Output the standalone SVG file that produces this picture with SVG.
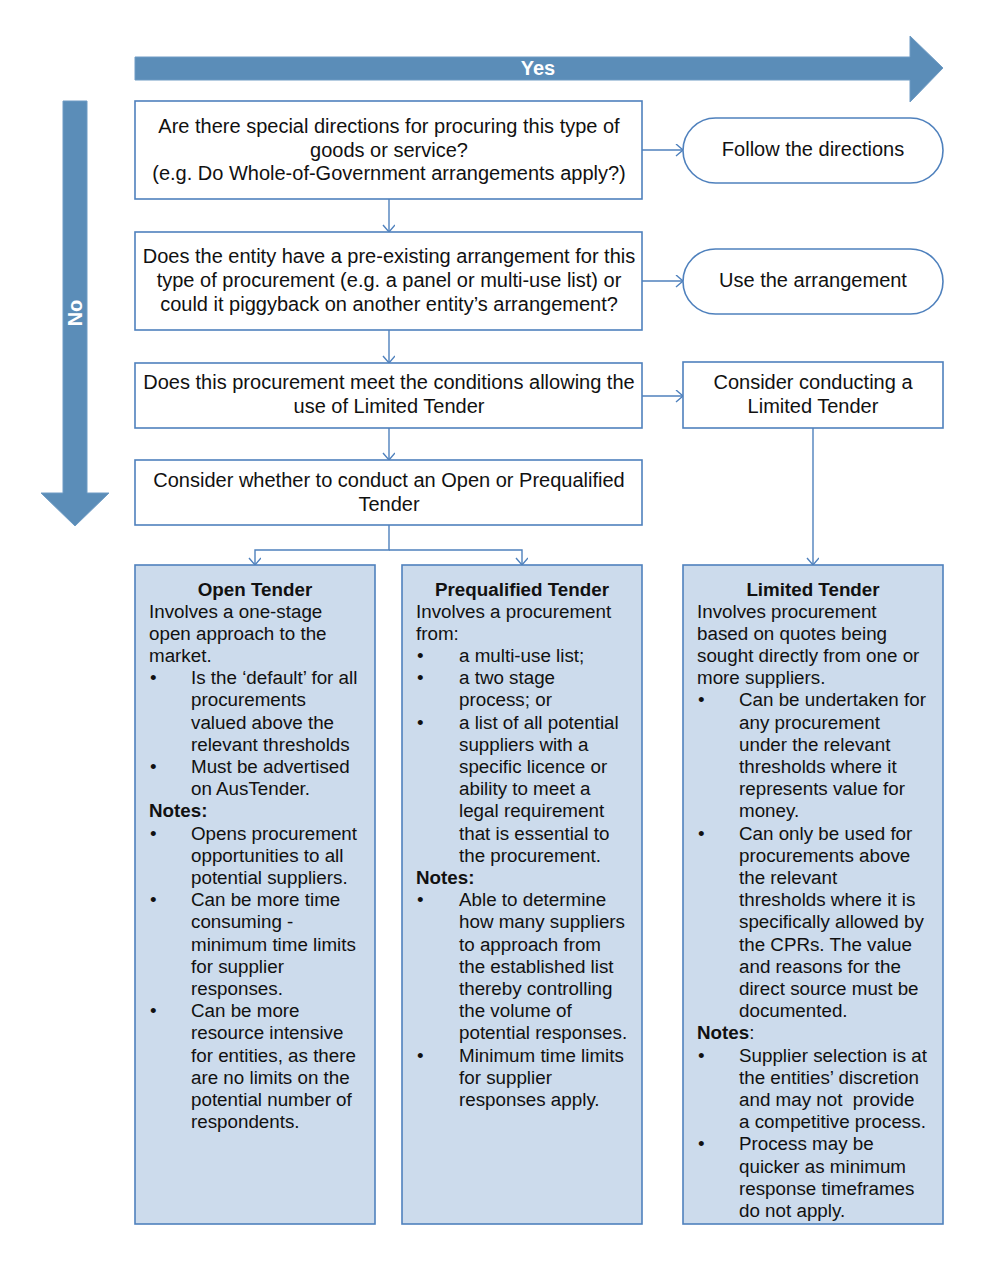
<svg xmlns="http://www.w3.org/2000/svg" width="986" height="1262" viewBox="0 0 986 1262">
<style>
.big{fill:#5B8DB8;stroke:#6E9BC4;stroke-width:1}
.lbl{font-family:"Liberation Sans",Arial,sans-serif;font-weight:bold;font-size:20px;fill:#fff;text-anchor:middle}
.box{fill:#fff;stroke:#4F81BD;stroke-width:1.6}
.tbox{fill:#CCDBEC;stroke:#4F81BD;stroke-width:1.6}
.t{font-family:"Liberation Sans",Arial,sans-serif;font-size:20px;fill:#111;text-anchor:middle}
.b{font-family:"Liberation Sans",Arial,sans-serif;font-size:18.8px;fill:#111}
.h{font-weight:bold}
.c{text-anchor:middle}
.con{fill:none;stroke:#4F81BD;stroke-width:1.4}
</style>
<defs>
<marker id="ah" markerUnits="userSpaceOnUse" markerWidth="12" markerHeight="14" refX="8" refY="6" orient="auto" viewBox="0 0 12 14">
<path d="M1,0 L8,6 L1,12" fill="none" stroke="#4F81BD" stroke-width="1.4"/>
</marker>
</defs>

<g id="yes-arrow">
<polygon class="big" points="135,57 910,57 910,36 943,68 910,102 910,80 135,80"/>
<text class="lbl" x="538" y="75">Yes</text>
</g>
<g id="no-arrow">
<polygon class="big" points="63,101 87,101 87,493 109,493 75,526 41,493 63,493"/>
<text class="lbl" transform="translate(75,313) rotate(-90)" x="0" y="7">No</text>
</g>

<g id="connectors">
<path class="con" d="M642,150 H683" marker-end="url(#ah)"/>
<path class="con" d="M642,281 H683" marker-end="url(#ah)"/>
<path class="con" d="M642,396 H683" marker-end="url(#ah)"/>
<path class="con" d="M389,199 V232" marker-end="url(#ah)"/>
<path class="con" d="M389,330 V363" marker-end="url(#ah)"/>
<path class="con" d="M389,428 V460" marker-end="url(#ah)"/>
<path class="con" d="M389,525 V550 H255 V565" marker-end="url(#ah)"/>
<path class="con" d="M389,550 H522 V565" marker-end="url(#ah)"/>
<path class="con" d="M813,428 V565" marker-end="url(#ah)"/>
</g>

<g id="q1">
<rect class="box" x="135" y="101" width="507" height="98"/>
<text class="t" x="389" y="133">Are there special directions for procuring this type of</text>
<text class="t" x="389" y="157">goods or service?</text>
<text class="t" x="389" y="180">(e.g. Do Whole-of-Government arrangements apply?)</text>
</g>
<g id="q2">
<rect class="box" x="135" y="232" width="507" height="98"/>
<text class="t" x="389" y="263">Does the entity have a pre-existing arrangement for this</text>
<text class="t" x="389" y="287">type of procurement (e.g. a panel or multi-use list) or</text>
<text class="t" x="389" y="311">could it piggyback on another entity’s arrangement?</text>
</g>
<g id="q3">
<rect class="box" x="135" y="363" width="507" height="65"/>
<text class="t" x="389" y="389">Does this procurement meet the conditions allowing the</text>
<text class="t" x="389" y="413">use of Limited Tender</text>
</g>
<g id="q4">
<rect class="box" x="135" y="460" width="507" height="65"/>
<text class="t" x="389" y="487">Consider whether to conduct an Open or Prequalified</text>
<text class="t" x="389" y="511">Tender</text>
</g>
<g id="follow">
<rect class="box" x="683" y="118" width="260" height="65" rx="32.5" ry="32.5"/>
<text class="t" x="813" y="156">Follow the directions</text>
</g>
<g id="use">
<rect class="box" x="683" y="249" width="260" height="65" rx="32.5" ry="32.5"/>
<text class="t" x="813" y="287">Use the arrangement</text>
</g>
<g id="consider-limited">
<rect class="box" x="683" y="362" width="260" height="66"/>
<text class="t" x="813" y="389">Consider conducting a</text>
<text class="t" x="813" y="413">Limited Tender</text>
</g>

<g id="open-tender">
<rect class="tbox" x="135" y="565" width="240" height="659"/>
<text class="b h c" x="255" y="596">Open Tender</text>
<text class="b" x="149" y="618">Involves a one-stage</text>
<text class="b" x="149" y="640">open approach to the</text>
<text class="b" x="149" y="662">market.</text>
<text class="b" x="150" y="684">•</text><text class="b" x="191" y="684">Is the ‘default’ for all</text>
<text class="b" x="191" y="706">procurements</text>
<text class="b" x="191" y="728.5">valued above the</text>
<text class="b" x="191" y="750.5">relevant thresholds</text>
<text class="b" x="150" y="773">•</text><text class="b" x="191" y="773">Must be advertised</text>
<text class="b" x="191" y="795">on AusTender.</text>
<text class="b h" x="149" y="817">Notes:</text>
<text class="b" x="150" y="839.5">•</text><text class="b" x="191" y="839.5">Opens procurement</text>
<text class="b" x="191" y="861.5">opportunities to all</text>
<text class="b" x="191" y="884">potential suppliers.</text>
<text class="b" x="150" y="906">•</text><text class="b" x="191" y="906">Can be more time</text>
<text class="b" x="191" y="928">consuming -</text>
<text class="b" x="191" y="950.5">minimum time limits</text>
<text class="b" x="191" y="972.5">for supplier</text>
<text class="b" x="191" y="995">responses.</text>
<text class="b" x="150" y="1017">•</text><text class="b" x="191" y="1017">Can be more</text>
<text class="b" x="191" y="1039">resource intensive</text>
<text class="b" x="191" y="1061.5">for entities, as there</text>
<text class="b" x="191" y="1083.5">are no limits on the</text>
<text class="b" x="191" y="1106">potential number of</text>
<text class="b" x="191" y="1128">respondents.</text>
</g>

<g id="prequalified-tender">
<rect class="tbox" x="402" y="565" width="240" height="659"/>
<text class="b h c" x="522" y="596">Prequalified Tender</text>
<text class="b" x="416" y="618">Involves a procurement</text>
<text class="b" x="416" y="640">from:</text>
<text class="b" x="417" y="662">•</text><text class="b" x="459" y="662">a multi-use list;</text>
<text class="b" x="417" y="684">•</text><text class="b" x="459" y="684">a two stage</text>
<text class="b" x="459" y="706">process; or</text>
<text class="b" x="417" y="728.5">•</text><text class="b" x="459" y="728.5">a list of all potential</text>
<text class="b" x="459" y="750.5">suppliers with a</text>
<text class="b" x="459" y="773">specific licence or</text>
<text class="b" x="459" y="795">ability to meet a</text>
<text class="b" x="459" y="817">legal requirement</text>
<text class="b" x="459" y="839.5">that is essential to</text>
<text class="b" x="459" y="861.5">the procurement.</text>
<text class="b h" x="416" y="884">Notes:</text>
<text class="b" x="417" y="906">•</text><text class="b" x="459" y="906">Able to determine</text>
<text class="b" x="459" y="928">how many suppliers</text>
<text class="b" x="459" y="950.5">to approach from</text>
<text class="b" x="459" y="972.5">the established list</text>
<text class="b" x="459" y="995">thereby controlling</text>
<text class="b" x="459" y="1017">the volume of</text>
<text class="b" x="459" y="1039">potential responses.</text>
<text class="b" x="417" y="1061.5">•</text><text class="b" x="459" y="1061.5">Minimum time limits</text>
<text class="b" x="459" y="1083.5">for supplier</text>
<text class="b" x="459" y="1106">responses apply.</text>
</g>

<g id="limited-tender">
<rect class="tbox" x="683" y="565" width="260" height="659"/>
<text class="b h c" x="813" y="596">Limited Tender</text>
<text class="b" x="697" y="618">Involves procurement</text>
<text class="b" x="697" y="640">based on quotes being</text>
<text class="b" x="697" y="662">sought directly from one or</text>
<text class="b" x="697" y="684">more suppliers.</text>
<text class="b" x="698" y="706">•</text><text class="b" x="739" y="706">Can be undertaken for</text>
<text class="b" x="739" y="728.5">any procurement</text>
<text class="b" x="739" y="750.5">under the relevant</text>
<text class="b" x="739" y="773">thresholds where it</text>
<text class="b" x="739" y="795">represents value for</text>
<text class="b" x="739" y="817">money.</text>
<text class="b" x="698" y="839.5">•</text><text class="b" x="739" y="839.5">Can only be used for</text>
<text class="b" x="739" y="861.5">procurements above</text>
<text class="b" x="739" y="884">the relevant</text>
<text class="b" x="739" y="906">thresholds where it is</text>
<text class="b" x="739" y="928">specifically allowed by</text>
<text class="b" x="739" y="950.5">the CPRs. The value</text>
<text class="b" x="739" y="972.5">and reasons for the</text>
<text class="b" x="739" y="995">direct source must be</text>
<text class="b" x="739" y="1017">documented.</text>
<text class="b" x="697" y="1039"><tspan class="h">Notes</tspan>:</text>
<text class="b" x="698" y="1061.5">•</text><text class="b" x="739" y="1061.5">Supplier selection is at</text>
<text class="b" x="739" y="1083.5">the entities’ discretion</text>
<text class="b" x="739" y="1106" xml:space="preserve">and may not  provide</text>
<text class="b" x="739" y="1128">a competitive process.</text>
<text class="b" x="698" y="1150">•</text><text class="b" x="739" y="1150">Process may be</text>
<text class="b" x="739" y="1172.5">quicker as minimum</text>
<text class="b" x="739" y="1194.5">response timeframes</text>
<text class="b" x="739" y="1217">do not apply.</text>
</g>
</svg>
